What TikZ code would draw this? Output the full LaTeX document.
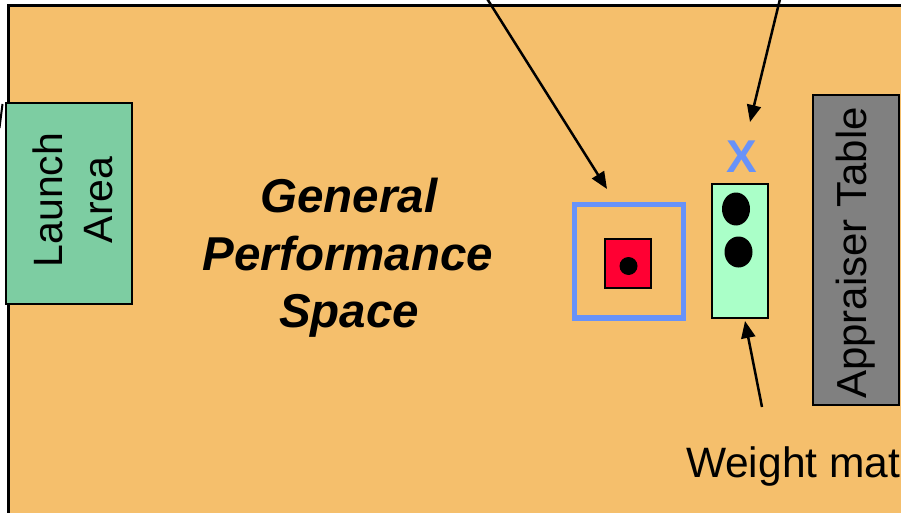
\documentclass[tikz,border=0pt]{standalone}
\usepackage{fontspec}
\setmainfont{Liberation Sans}
\usetikzlibrary{arrows.meta}
\definecolor{stage}{RGB}{245,191,108}
\definecolor{launchgreen}{RGB}{125,205,162}
\definecolor{matgreen}{RGB}{170,255,200}
\definecolor{markblue}{RGB}{104,146,248}
\definecolor{spotred}{RGB}{255,0,51}
\definecolor{tablegray}{RGB}{128,128,128}
\tikzset{
  box/.style={draw=black, line width=2.5pt, inner sep=0pt},
  pointer/.style={draw=black, line width=2.5pt, -{Triangle[length=17pt,width=14pt]}},
  lbl/.style={inner sep=0pt, outer sep=0pt, text=black},
}
\begin{document}
\begin{tikzpicture}[x=1pt,y=-1pt]
\useasboundingbox (0,0) rectangle (901,513);
\fill[white] (0,0) rectangle (901,513);
\clip (0,0) rectangle (901,513);
% stage
\draw[fill=stage, line width=2.5pt] (8.5,5.5) rectangle (930,540);
% small incoming line at left edge
\coordinate (leftA) at (2.5,104);
\coordinate (leftB) at (-0.5,128);
\draw[line width=2pt] (leftA) -- (leftB);
% launch area
\node[box, fill=launchgreen, minimum width=126pt, minimum height=201pt] (launch) at (69,203.5) {};
\node[lbl, rotate=90, anchor=base, font=\fontsize{41}{49}\selectfont] (launch1) at (62,200) {Launch};
\node[lbl, rotate=90, anchor=base, font=\fontsize{41}{49}\selectfont] (launch2) at (112,200) {Area};
% general performance space
\node[lbl, anchor=base, font=\fontsize{47.5}{57}\selectfont\bfseries\itshape] (gen1) at (349,212) {General};
\node[lbl, anchor=base, font=\fontsize{47.5}{57}\selectfont\bfseries\itshape] (gen2) at (348,270) {Performance};
\node[lbl, anchor=base, font=\fontsize{47.5}{57}\selectfont\bfseries\itshape] (gen3) at (349,327) {Space};
% blue square and red spot
\node[draw=markblue, line width=5.5pt, inner sep=0pt, minimum width=109pt, minimum height=113.5pt] (bluesq) at (629,261.25) {};
\node[box, line width=2pt, fill=spotred, minimum width=46.5pt, minimum height=49.5pt] (redsq) at (627.75,263.25) {};
\fill[black] (628.5,266) circle (9);
% weight mat
\node[box, fill=matgreen, minimum width=56pt, minimum height=134pt] (mat) at (740,251) {};
\fill[black] (736,209) ellipse (14 and 16.5);
\fill[black] (738.5,252) ellipse (14 and 15.5);
% X mark
\node[lbl, anchor=base, text=markblue, font=\fontsize{46}{55}\selectfont\bfseries] (xmark) at (742,172) {X};
% appraiser table
\node[box, fill=tablegray, minimum width=86pt, minimum height=310pt] (table) at (856,250) {};
\node[lbl, rotate=90, font=\fontsize{42}{50}\selectfont] (tablelbl) at (856,253) {Appraiser Table};
% weight mat label
\node[lbl, anchor=base west, font=\fontsize{42.5}{50}\selectfont] (matlbl) at (686,477) {Weight mat};
% pointers
\coordinate (p1s) at (486,-3);
\coordinate (p1e) at (607,189);
\coordinate (p2s) at (780.5,-3);
\coordinate (p2e) at (750,122);
\coordinate (p3s) at (762,407);
\coordinate (p3e) at (745,321);
\draw[pointer] (p1s) -- (p1e);
\draw[pointer] (p2s) -- (p2e);
\draw[pointer] (p3s) -- (p3e);
\end{tikzpicture}
\end{document}
